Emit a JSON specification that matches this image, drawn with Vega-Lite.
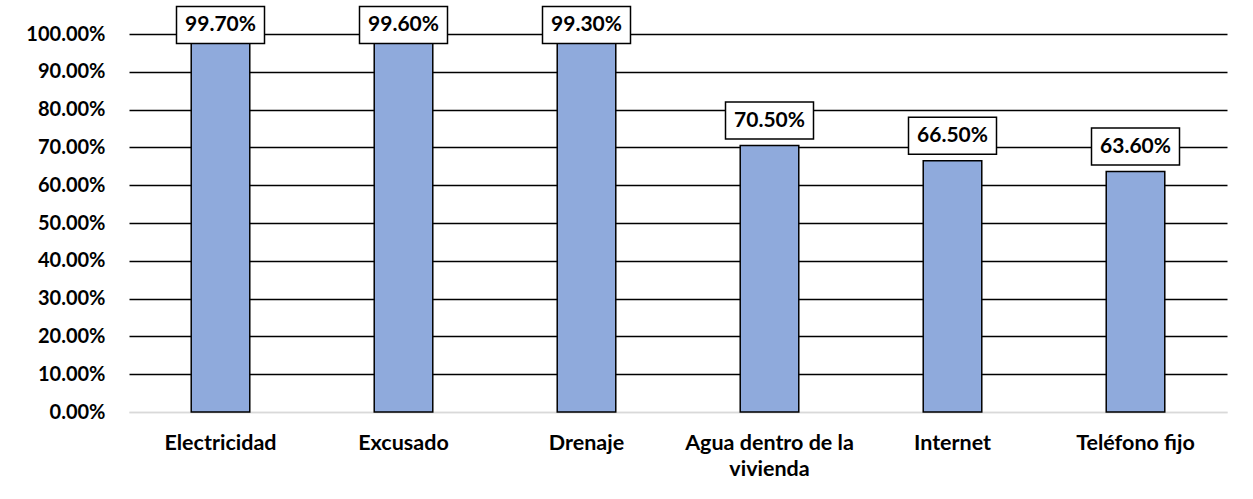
{
  "$schema": "https://vega.github.io/schema/vega-lite/v6.json",
  "width": 1098,
  "height": 378,
  "autosize": {"type": "none"},
  "padding": {"left": 129, "top": 34, "right": 26, "bottom": 87},
  "background": "white",
  "config": {
    "view": {"stroke": null},
    "font": "Lato",
    "axis": {"labelFont": "Lato", "labelFontWeight": "bold", "labelColor": "black"},
    "axisY": {
      "title": null,
      "format": ".2%",
      "values": [0, 0.1, 0.2, 0.3, 0.4, 0.5, 0.6, 0.7, 0.8, 0.9, 1.0],
      "labelOverlap": false,
      "ticks": false,
      "domain": false,
      "labelFontSize": 20,
      "labelPadding": 24,
      "gridColor": {"condition": {"test": "datum.value === 0", "value": "#d9d9d9"}, "value": "black"},
      "gridWidth": 1.5,
      "gridOpacity": 1
    }
  },
  "data": {
    "values": [
      {"category": "Electricidad", "value": 0.997},
      {"category": "Excusado", "value": 0.996},
      {"category": "Drenaje", "value": 0.993},
      {"category": "Agua dentro de la vivienda", "value": 0.705},
      {"category": "Internet", "value": 0.665},
      {"category": "Teléfono fijo", "value": 0.636}
    ]
  },
  "encoding": {
    "x": {
      "field": "category",
      "type": "nominal",
      "sort": null,
      "scale": {"paddingInner": 0.68, "paddingOuter": 0.34},
      "axis": {
        "title": null,
        "labelAngle": 0,
        "ticks": false,
        "domainColor": "#d9d9d9",
        "domainWidth": 1.5,
        "labelFontSize": 21.5,
        "labelPadding": 20,
        "labelLineHeight": 26,
        "labelExpr": "datum.value == 'Agua dentro de la vivienda' ? ['Agua dentro de la', 'vivienda'] : datum.value"
      }
    }
  },
  "layer": [
    {
      "mark": {"type": "bar", "fill": "#8faadc", "stroke": "black", "strokeWidth": 1.5},
      "encoding": {
        "y": {
          "field": "value",
          "type": "quantitative",
          "scale": {"domain": [0, 1]},
          "axis": {"title": null, "format": ".2%"}
        }
      }
    },
    {
      "transform": [{"calculate": "min(datum.value, 0.958)", "as": "labelPos"}],
      "mark": {"type": "tick", "orient": "horizontal", "size": 88, "thickness": 37, "fill": "white", "stroke": "black", "strokeWidth": 1.5, "opacity": 1, "yOffset": -25, "clip": false},
      "encoding": {
        "y": {"field": "labelPos", "type": "quantitative", "axis": {"title": null, "format": ".2%"}}
      }
    },
    {
      "transform": [{"calculate": "min(datum.value, 0.958)", "as": "labelPos"}],
      "mark": {"type": "text", "fontSize": 21, "fontWeight": "bold", "font": "Lato", "color": "black", "baseline": "middle", "yOffset": -25},
      "encoding": {
        "y": {"field": "labelPos", "type": "quantitative", "axis": {"title": null, "format": ".2%"}},
        "text": {"field": "value", "type": "quantitative", "format": ".2%"}
      }
    }
  ]
}
